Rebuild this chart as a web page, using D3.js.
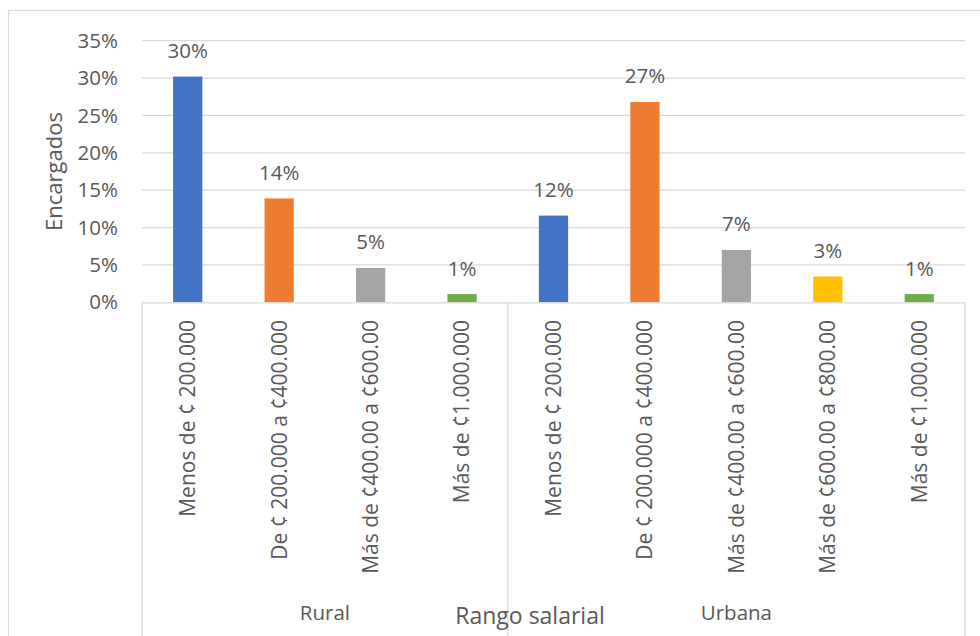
<!DOCTYPE html>
<html><head><meta charset="utf-8">
<script src="https://cdn.jsdelivr.net/npm/d3@7"></script>
<style>body{margin:0;background:#fff}svg{display:block}text{font-family:"Open Sans",sans-serif;fill:#595959}</style>
</head><body><svg width="980" height="636"></svg>
<script>
const categories = ["Menos de ¢ 200.000","De ¢ 200.000 a ¢400.000","Más de ¢400.00 a ¢600.00","Más de ¢1.000.000",
  "Menos de ¢ 200.000","De ¢ 200.000 a ¢400.000","Más de ¢400.00 a ¢600.00","Más de ¢600.00 a ¢800.00","Más de ¢1.000.000"];
const groups = ["Rural","Rural","Rural","Rural","Urbana","Urbana","Urbana","Urbana","Urbana"];
const values = [30.2, 13.9, 4.6, 1.1, 11.6, 26.8, 7.0, 3.45, 1.1];
const colorKeys = ["a","b","c","e","a","b","c","d","e"];
const yTicks = [0,5,10,15,20,25,30,35];
const groupNames = ["Rural","Urbana"];

const palette = {a:"#4472C4",b:"#ED7D31",c:"#A5A5A5",d:"#FFC000",e:"#70AD47"};
const svg = d3.select("svg");
const L=142,R=965,T=40.7,B=302.3;
// outer border
svg.append("rect").attr("x",8.5).attr("y",10.5).attr("width",1000).attr("height",1000)
  .attr("fill","none").attr("stroke","#d9d9d9").attr("stroke-width",1.2);

const x = d3.scaleBand().domain(d3.range(categories.length)).range([L,R]).paddingInner(0.68).paddingOuter(0.34);
const y = d3.scaleLinear().domain([0,35]).range([B,T]);

// gridlines
svg.append("g").selectAll("line").data(yTicks.filter(d=>d>0)).join("line")
  .attr("x1",L).attr("x2",R).attr("y1",d=>y(d)).attr("y2",d=>y(d))
  .attr("stroke","#d9d9d9").attr("stroke-width",1.3);

// y axis labels
const yAxis = d3.axisLeft(y).tickValues(yTicks).tickFormat(d=>d+"%").tickSize(0).tickPadding(0);
const ya = svg.append("g").attr("transform",`translate(118,0)`).call(yAxis);
ya.select(".domain").remove();
ya.selectAll("text").attr("font-size",20.5).attr("fill","#595959").style("font-family","'Open Sans',sans-serif");

// bars
svg.append("g").selectAll("rect").data(values).join("rect")
  .attr("x",(d,i)=>x(i)).attr("width",x.bandwidth())
  .attr("y",d=>y(d)).attr("height",d=>B-y(d))
  .attr("fill",(d,i)=>palette[colorKeys[i]]);

// data labels
svg.append("g").selectAll("text").data(values).join("text")
  .attr("x",(d,i)=>x(i)+x.bandwidth()/2).attr("y",d=>y(d)-18.5)
  .attr("text-anchor","middle").attr("font-size",20.5).attr("fill","#404040")
  .text(d=>Math.round(d)+"%");

// category axis box
const sepX = [L, x(4)-x.step()*0.34, R];
svg.append("line").attr("x1",L).attr("x2",R).attr("y1",B+0.5).attr("y2",B+0.5).attr("stroke","#d9d9d9").attr("stroke-width",1.3);
svg.append("g").selectAll("line").data(sepX).join("line")
  .attr("x1",d=>d).attr("x2",d=>d).attr("y1",B).attr("y2",636)
  .attr("stroke","#d9d9d9").attr("stroke-width",1.3);

// category labels
svg.append("g").selectAll("text").data(categories).join("text")
  .attr("transform",(d,i)=>`translate(${x(i)+x.bandwidth()/2},320) rotate(-90)`)
  .attr("text-anchor","end").attr("dy","0.35em").attr("font-size",21)
  .text(d=>d);

// group labels
svg.append("g").selectAll("text").data(groupNames).join("text")
  .attr("x",(d,i)=>(sepX[i]+sepX[i+1])/2).attr("y",620)
  .attr("text-anchor","middle").attr("font-size",20.5).text(d=>d);

// axis titles
svg.append("text").attr("x",530).attr("y",624).attr("text-anchor","middle").attr("font-size",23).text("Rango salarial");
svg.append("text").attr("transform",`translate(62,${(T+B)/2}) rotate(-90)`).attr("text-anchor","middle").attr("font-size",22).text("Encargados");
</script></body></html>
